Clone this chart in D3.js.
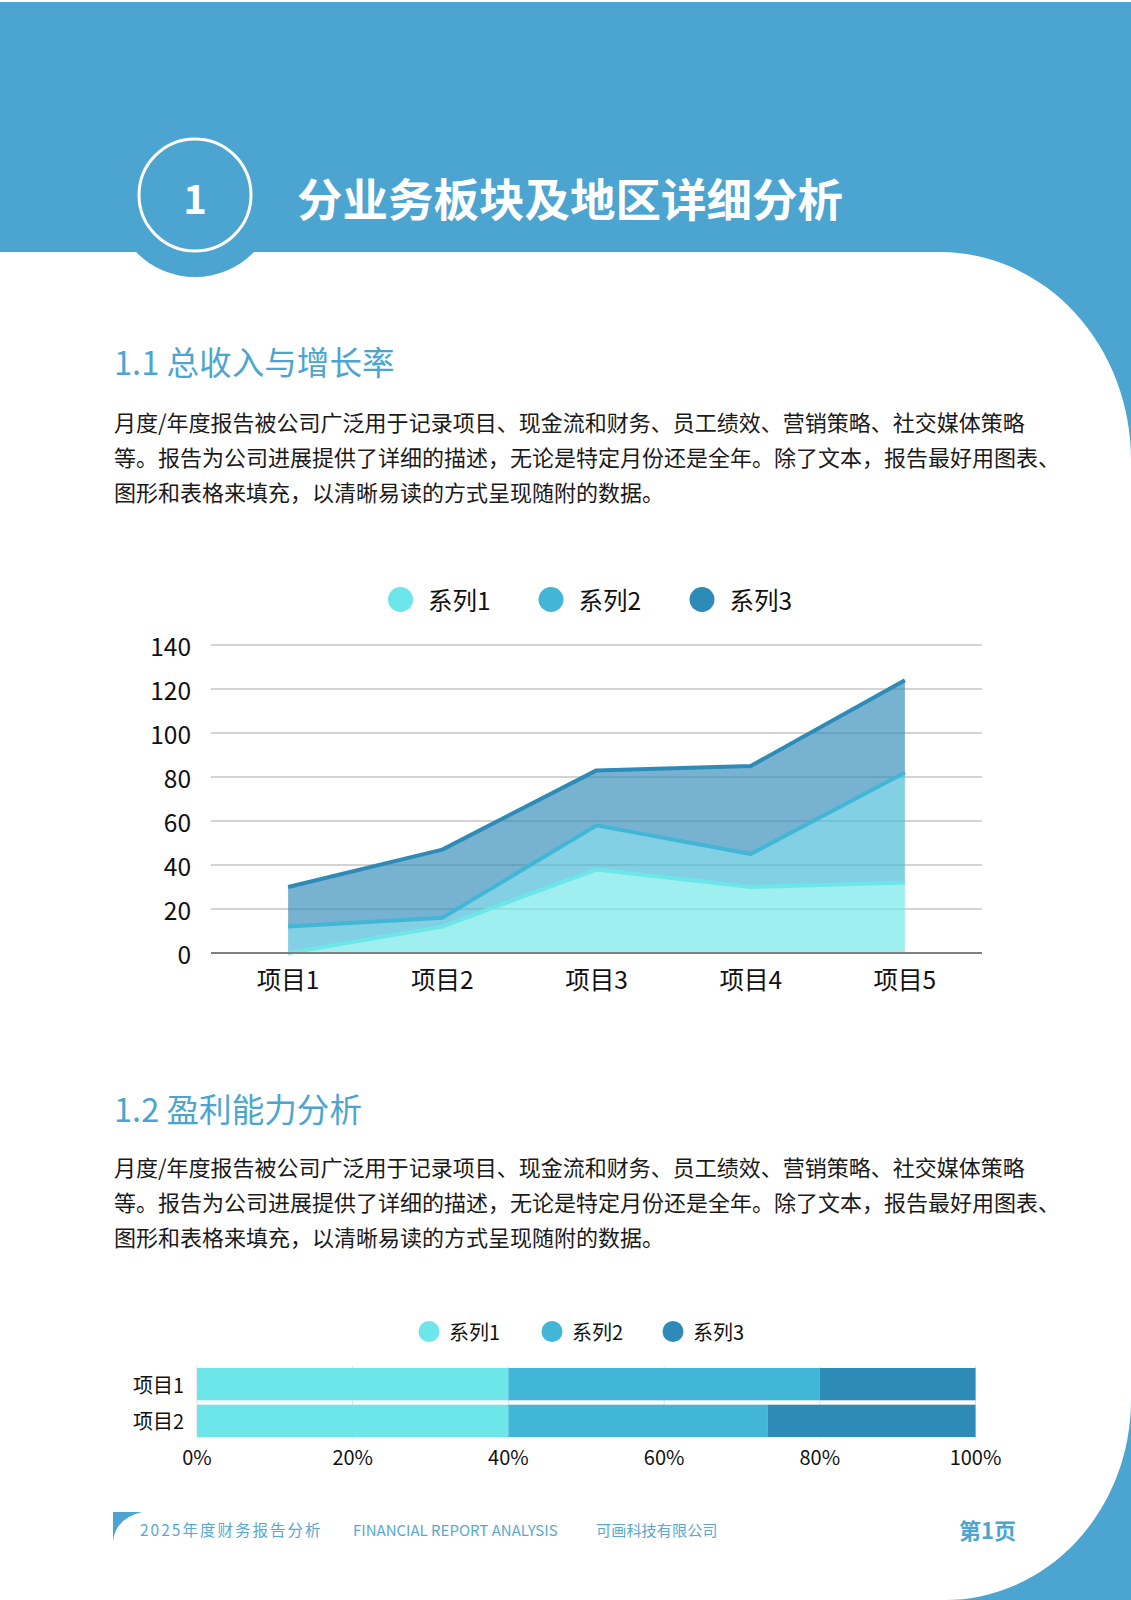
<!DOCTYPE html>
<html>
<head>
<meta charset="utf-8">
<script src="https://cdn.jsdelivr.net/npm/d3@7"></script>
<style>
  html, body { margin: 0; padding: 0; background: #fff; }
  svg { display: block; font-family: "Noto Sans CJK SC", "Noto Sans", sans-serif; }
</style>
</head>
<body>
<div id="page"></div>
<script>
// ---- data ----
const items = ["项目1", "项目2", "项目3", "项目4", "项目5"];
const seriesNames = ["系列1", "系列2", "系列3"];
// stacked area values (each series on top of the previous)
const area1 = [0, 12, 38, 30, 32];
const area2 = [12, 4, 20, 15, 50];
const area3 = [18, 31, 25, 40, 42];
const yTicks = [0, 20, 40, 60, 80, 100, 120, 140];

// 100% stacked bar values
const barItems = ["项目1", "项目2"];
const bar1 = [2, 3];
const bar2 = [2, 2.5];
const bar3 = [1, 2];
const pctTicks = [0, 0.2, 0.4, 0.6, 0.8, 1];

const paragraph = [
  "月度/年度报告被公司广泛用于记录项目、现金流和财务、员工绩效、营销策略、社交媒体策略",
  "等。报告为公司进展提供了详细的描述，无论是特定月份还是全年。除了文本，报告最好用图表、",
  "图形和表格来填充，以清晰易读的方式呈现随附的数据。"
];

const W = 1131, H = 1600;
const BLUE = "#4ca5d0";
const COLORS = ["#6ce6e8", "#41b6d6", "#2e8bb8"];

const svg = d3.select("#page").append("svg")
  .attr("width", W)
  .attr("height", H);

// ---- page decoration ----
svg.append("rect")
  .attr("x", 0).attr("y", 2)
  .attr("width", W).attr("height", 250)
  .attr("fill", BLUE);

svg.append("circle")
  .attr("cx", 195).attr("cy", 195).attr("r", 82)
  .attr("fill", BLUE);

svg.append("circle")
  .attr("cx", 195).attr("cy", 195).attr("r", 56)
  .attr("fill", "none")
  .attr("stroke", "#fff")
  .attr("stroke-width", 3);

svg.append("text")
  .attr("x", 195).attr("y", 197)
  .attr("text-anchor", "middle")
  .attr("dominant-baseline", "central")
  .attr("fill", "#fff")
  .style("font-size", "40px")
  .style("font-weight", "bold")
  .text("1");

svg.append("text")
  .attr("x", 297).attr("y", 197)
  .attr("dominant-baseline", "central")
  .attr("fill", "#fff")
  .style("font-size", "45.5px")
  .style("font-weight", "bold")
  .text("分业务板块及地区详细分析");

// right side curves
svg.append("path")
  .attr("d", "M940,252 A191,208 0 0 1 1131,460 L1131,252 Z")
  .attr("fill", BLUE);

svg.append("path")
  .attr("d", "M1131,1400 A186,200 0 0 1 945,1600 L1131,1600 Z")
  .attr("fill", BLUE);

// ---- section texts ----
function section(title, titleY, lineY) {
  svg.append("text")
    .attr("x", 114).attr("y", titleY)
    .attr("dominant-baseline", "central")
    .attr("fill", BLUE)
    .style("font-size", "32.6px")
    .text(title);

  svg.append("g")
    .selectAll("text")
    .data(paragraph)
    .join("text")
    .attr("x", 114)
    .attr("y", (d, i) => lineY + i * 34.8)
    .attr("dominant-baseline", "central")
    .attr("fill", "#1a1a1a")
    .style("font-size", "22px")
    .text(d => d);
}

section("1.1 总收入与增长率", 360, 421);
section("1.2 盈利能力分析", 1107, 1166);

// ---- area chart ----
const x = d3.scaleBand().domain(items).range([211, 982]);
const y = d3.scaleLinear().domain([0, 140]).range([953, 645]);
const cx = d => x(d) + x.bandwidth() / 2;

const areaChart = svg.append("g");

areaChart.append("g")
  .selectAll("line")
  .data(yTicks.filter(t => t > 0))
  .join("line")
  .attr("x1", 211).attr("x2", 982)
  .attr("y1", d => y(d)).attr("y2", d => y(d))
  .attr("stroke", "#c4c4c4")
  .attr("stroke-width", 1.5);

const areaRows = items.map((it, i) => ({
  item: it, s1: area1[i], s2: area2[i], s3: area3[i]
}));
const stacked = d3.stack().keys(["s1", "s2", "s3"])(areaRows);

const area = d3.area()
  .x(d => cx(d.data.item))
  .y0(d => y(d[0]))
  .y1(d => y(d[1]));

const topLine = d3.line()
  .x(d => cx(d.data.item))
  .y(d => y(d[1]));

areaChart.append("g")
  .selectAll("path")
  .data(stacked)
  .join("path")
  .attr("d", area)
  .attr("fill", (d, i) => COLORS[i])
  .attr("fill-opacity", 0.65);

areaChart.append("g")
  .selectAll("path")
  .data(stacked)
  .join("path")
  .attr("d", topLine)
  .attr("fill", "none")
  .attr("stroke", (d, i) => COLORS[i])
  .attr("stroke-width", 4)
  .attr("stroke-linejoin", "round");

// baseline
areaChart.append("line")
  .attr("x1", 211).attr("x2", 982)
  .attr("y1", y(0)).attr("y2", y(0))
  .attr("stroke", "#808080")
  .attr("stroke-width", 2);

// y labels
areaChart.append("g")
  .selectAll("text")
  .data(yTicks)
  .join("text")
  .attr("x", 191)
  .attr("y", d => y(d))
  .attr("text-anchor", "end")
  .attr("dominant-baseline", "central")
  .attr("fill", "#111")
  .style("font-size", "24.5px")
  .text(d => d);

// x labels
areaChart.append("g")
  .selectAll("text")
  .data(items)
  .join("text")
  .attr("x", d => cx(d))
  .attr("y", 978)
  .attr("text-anchor", "middle")
  .attr("dominant-baseline", "central")
  .attr("fill", "#111")
  .style("font-size", "24.5px")
  .text(d => d);

// legend
const legendA = areaChart.append("g")
  .selectAll("g")
  .data(seriesNames)
  .join("g")
  .attr("transform", (d, i) => `translate(${[400.5, 551, 702][i]},599.5)`);

legendA.append("circle").attr("r", 12.5).attr("fill", (d, i) => COLORS[i]);
legendA.append("text")
  .attr("x", 27.5)
  .attr("dominant-baseline", "central")
  .attr("fill", "#111")
  .style("font-size", "24.5px")
  .text(d => d);

// ---- 100% stacked bar chart ----
const bx = d3.scaleLinear().domain([0, 1]).range([197, 975.5]);
const by = d3.scaleBand().domain(barItems).range([1368, 1437]).paddingInner(0.12);

const barChart = svg.append("g");

barChart.append("g")
  .selectAll("line")
  .data(pctTicks)
  .join("line")
  .attr("x1", d => bx(d)).attr("x2", d => bx(d))
  .attr("y1", 1366).attr("y2", 1439)
  .attr("stroke", "#dedede")
  .attr("stroke-width", 1);

const barRows = barItems.map((it, i) => {
  const total = bar1[i] + bar2[i] + bar3[i];
  return { item: it, s1: bar1[i] / total, s2: bar2[i] / total, s3: bar3[i] / total };
});
const barStack = d3.stack().keys(["s1", "s2", "s3"])(barRows);

barChart.append("g")
  .selectAll("g")
  .data(barStack)
  .join("g")
  .attr("fill", (d, i) => COLORS[i])
  .selectAll("rect")
  .data(d => d)
  .join("rect")
  .attr("x", d => bx(d[0]))
  .attr("width", d => bx(d[1]) - bx(d[0]))
  .attr("y", d => by(d.data.item))
  .attr("height", by.bandwidth());

barChart.append("g")
  .selectAll("text")
  .data(barItems)
  .join("text")
  .attr("x", 184)
  .attr("y", d => by(d) + by.bandwidth() / 2)
  .attr("text-anchor", "end")
  .attr("dominant-baseline", "central")
  .attr("fill", "#111")
  .style("font-size", "20px")
  .text(d => d);

barChart.append("g")
  .selectAll("text")
  .data(pctTicks)
  .join("text")
  .attr("x", d => bx(d))
  .attr("y", 1456)
  .attr("text-anchor", "middle")
  .attr("dominant-baseline", "central")
  .attr("fill", "#111")
  .style("font-size", "20px")
  .text(d => d3.format(".0%")(d));

const legendB = barChart.append("g")
  .selectAll("g")
  .data(seriesNames)
  .join("g")
  .attr("transform", (d, i) => `translate(${[429, 552, 673][i]},1331.5)`);

legendB.append("circle").attr("r", 10.5).attr("fill", (d, i) => COLORS[i]);
legendB.append("text")
  .attr("x", 20)
  .attr("dominant-baseline", "central")
  .attr("fill", "#111")
  .style("font-size", "20px")
  .text(d => d);

// ---- footer ----
svg.append("path")
  .attr("d", "M113,1512 L142,1512 Q116,1518 113,1541 Z")
  .attr("fill", BLUE);

svg.append("text")
  .attr("x", 140).attr("y", 1529)
  .attr("dominant-baseline", "central")
  .attr("fill", "#5aa8cf")
  .style("font-size", "15.5px")
  .style("letter-spacing", "2px")
  .text("2025年度财务报告分析");

svg.append("text")
  .attr("x", 353).attr("y", 1529)
  .attr("dominant-baseline", "central")
  .attr("fill", "#5aa8cf")
  .style("font-size", "15px")
  .text("FINANCIAL REPORT ANALYSIS");

svg.append("text")
  .attr("x", 596).attr("y", 1529)
  .attr("dominant-baseline", "central")
  .attr("fill", "#5aa8cf")
  .style("font-size", "15.2px")
  .text("可画科技有限公司");

svg.append("text")
  .attr("x", 959).attr("y", 1529)
  .attr("dominant-baseline", "central")
  .attr("fill", BLUE)
  .style("font-size", "22px")
  .style("font-weight", "bold")
  .text("第1页");
</script>
</body>
</html>
